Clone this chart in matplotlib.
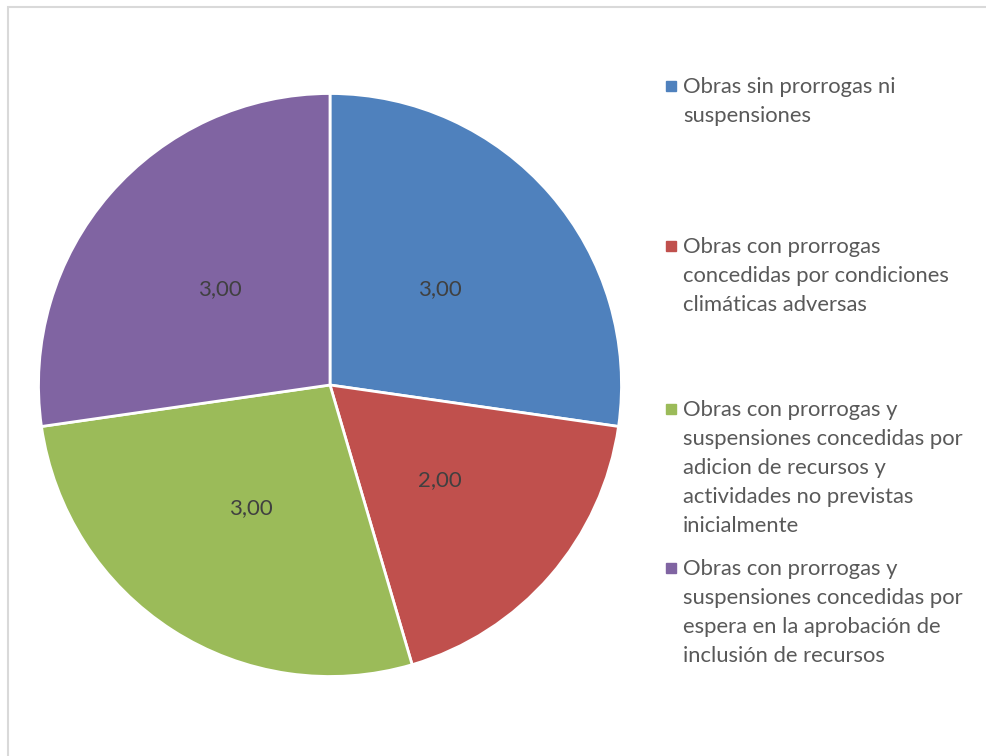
import matplotlib.pyplot as plt
from matplotlib.patches import Rectangle

categories = [
    'Obras sin prorrogas ni\nsuspensiones',
    'Obras con prorrogas\nconcedidas por condiciones\nclimáticas adversas',
    'Obras con prorrogas y\nsuspensiones concedidas por\nadicion de recursos y\nactividades no previstas\ninicialmente',
    'Obras con prorrogas y\nsuspensiones concedidas por\nespera en la aprobación de\ninclusión de recursos',
]
values = [3, 2, 3, 3]
colors = ['#4F81BD', '#C0504D', '#9BBB59', '#8064A2']
legend_y = [86, 246, 409, 568]  # first-line centre, px from top

W, H = 987, 756
plt.rcParams['font.family'] = ['Lato', 'DejaVu Sans']
fig = plt.figure(figsize=(W / 100, H / 100), dpi=100)

# chart area frame (right/bottom edges run off the picture)
fig.patches.append(Rectangle((8 / W, -0.1), 1.2, (H - 7) / H + 0.1,
                             transform=fig.transFigure, fill=False,
                             edgecolor='#D9D9D9', lw=1.5))

cx, cy, r = 330, 385, 291.5
ax = fig.add_axes([(cx - r) / W, (H - cy - r) / H, 2 * r / W, 2 * r / H])
wedges, texts, autotexts = ax.pie(
    values, colors=colors, startangle=90, counterclock=False,
    autopct=lambda p: f'{p * sum(values) / 100:.2f}'.replace('.', ','),
    pctdistance=0.5, wedgeprops=dict(edgecolor='white', linewidth=2))
for t in autotexts:
    t.set_color('#404040')
    t.set_fontsize(16)
ax.set_xlim(-1, 1)
ax.set_ylim(-1, 1)
ax.set_aspect('auto')
ax.axis('off')

for label, col, y in zip(categories, colors, legend_y):
    fig.patches.append(Rectangle((666 / W, 1 - (y + 5) / H), 10 / W, 10 / H,
                                 transform=fig.transFigure, color=col))
    fig.text(683 / W, 1 - (y - 9) / H, label, ha='left', va='top',
             fontsize=15.8, color='#595959', linespacing=1.57)

fig.savefig('out.png', dpi=100)
